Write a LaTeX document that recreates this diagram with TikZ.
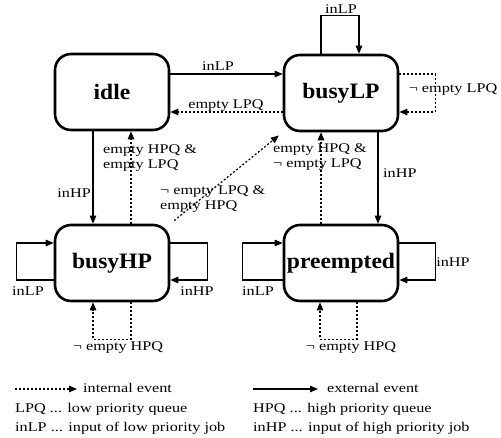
\documentclass[tikz,border=0pt]{standalone}
\usepackage{fontspec}
\setmainfont{Liberation Serif}
\newfontfamily\lblfont{Liberation Serif}[FakeStretch=1.22]
\newfontfamily\boxfont{Liberation Serif}[FakeStretch=1.07]
\usetikzlibrary{arrows.meta}
\tikzset{
  state/.style={draw, line width=2.6pt, rounded corners=16pt, minimum width=114pt, minimum height=76pt, inner sep=0pt, font=\boxfont\bfseries\fontsize{22}{24}\selectfont},
  ext/.style={line width=1.1pt, -{Triangle[length=8pt,width=6.5pt]}},
  int/.style={line width=1.2pt, dash pattern=on 2pt off 2pt, -{Triangle[length=8pt,width=6.5pt]}},
  lbl/.style={font=\lblfont\fontsize{13.3}{14.5}\selectfont, inner sep=1pt},
}
\begin{document}
\begin{tikzpicture}[x=1pt,y=-1pt]
\useasboundingbox[fill=white] (0,0) rectangle (501,437);
% states
\node[state] (idle) at (112,92) {idle};
\node[state] (busyLP) at (341,93) {busyLP};
\node[state] (busyHP) at (112,263) {busyHP};
\node[state] (preempted) at (341,263) {preempted};
% idle <-> busyLP
\draw[ext] ([yshift=18pt]idle.east) -- ([yshift=18pt]idle.east -| busyLP.west);
\node[lbl] (l1) at (218,66) {inLP};
\draw[int] ([yshift=-19pt]busyLP.west) -- ([yshift=-19pt]busyLP.west -| idle.east);
\node[lbl] (l2) at (226,106) {empty LPQ};
% busyLP loops
\draw[ext] ([xshift=-20pt]busyLP.north) -- ++(0,-38) -| ([xshift=18pt]busyLP.north);
\node[lbl] (l3) at (341,9) {inLP};
\draw[int] ([yshift=19pt]busyLP.east) -- ++(36,0) |- ([yshift=-19pt]busyLP.east);
\node[lbl] (l4) at (453,90) {¬ empty LPQ};
% busyLP <-> preempted
\draw[ext] ([xshift=37pt]busyLP.south) -- ([xshift=37pt]busyLP.south |- preempted.north);
\node[lbl, anchor=west] (l5) at (382,173) {inHP};
\draw[int] ([xshift=-20pt]preempted.north) -- ([xshift=-20pt]preempted.north |- busyLP.south);
\node[lbl, align=left] (l6) at (320,157) {empty HPQ \&\\¬ empty LPQ};
% idle <-> busyHP
\draw[ext] ([xshift=-19pt]idle.south) -- ([xshift=-19pt]idle.south |- busyHP.north);
\node[lbl, anchor=east] (l7) at (92,193) {inHP};
\draw[int] ([xshift=19pt]busyHP.north) -- ([xshift=19pt]busyHP.north |- idle.south);
\node[lbl, align=left, anchor=west] (l8) at (102,158) {empty HPQ \&\\empty LPQ};
% busyHP -> busyLP
\draw[int, shorten <=5pt, shorten >=5pt] (busyHP.north east) -- (busyLP.south west);
\node[lbl, align=left, anchor=west] (l9) at (159,199) {¬ empty LPQ \&\\empty HPQ};
% busyHP loops
\draw[ext] ([yshift=-17pt]busyHP.west) -- ++(-37,0) |- ([yshift=20pt]busyHP.west);
\node[lbl] (l10) at (28,291) {inLP};
\draw[ext] ([yshift=20pt]busyHP.east) -- ++(37,0) |- ([yshift=-17pt]busyHP.east);
\node[lbl] (l11) at (197,291) {inHP};
\draw[int] ([xshift=19pt]busyHP.south) -- ++(0,37) -| ([xshift=-19pt]busyHP.south);
\node[lbl] (l12) at (118,348) {¬ empty HPQ};
% preempted loops
\draw[ext] ([yshift=-17pt]preempted.west) -- ++(-40,0) |- ([yshift=20pt]preempted.west);
\node[lbl] (l13) at (258,291) {inLP};
\draw[ext] ([yshift=20pt]preempted.east) -- ++(36,0) |- ([yshift=-17pt]preempted.east);
\node[lbl] (l14) at (453,262) {inHP};
\draw[int] ([xshift=16pt]preempted.south) -- ++(0,37) -| ([xshift=-21pt]preempted.south);
\node[lbl] (l15) at (351,348) {¬ empty HPQ};
% legend
\coordinate (ia) at (15,389);
\coordinate (ib) at (77,389);
\coordinate (ea) at (253,389);
\coordinate (eb) at (318,389);
\draw[int] (ia) -- (ib);
\draw[ext] (ea) -- (eb);
\node[lbl, anchor=west] (g1) at (82,388) {internal event};
\node[lbl, anchor=west] (g2) at (326,388) {external event};
\node[lbl, anchor=west] (g3) at (14,409) {LPQ ... low priority queue};
\node[lbl, anchor=west] (g4) at (14,428) {inLP ... input of low priority job};
\node[lbl, anchor=west] (g5) at (252,409) {HPQ ... high priority queue};
\node[lbl, anchor=west] (g6) at (252,428) {inHP ... input of high priority job};
\end{tikzpicture}
\end{document}
